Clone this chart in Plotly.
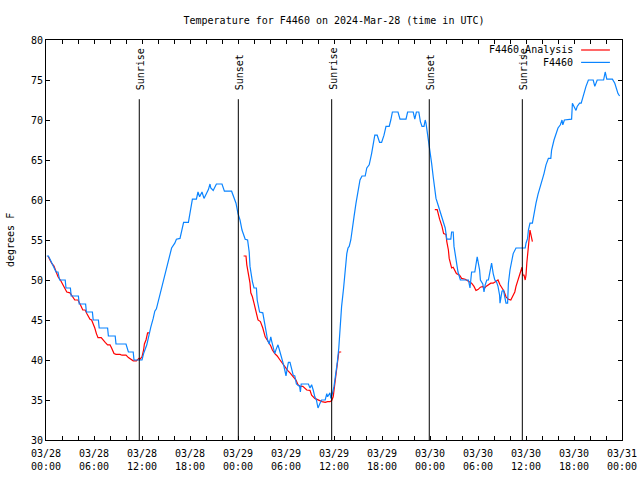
import plotly.graph_objects as go
import pandas as pd

BASE = pd.Timestamp("2024-03-28 00:00")

# observed F4460 temperature: (hours since 03/28 00:00 UTC, degF)
obs = [(0.1,53.0),(0.3,53.0),(0.55,52.5),(0.8,52.0),(1.25,51.0),(1.5,51.0),(1.7,50.0),(2.4,50.0),(2.5,49.0),(3.05,49.0),(3.15,48.0),(4.05,48.0),(4.15,47.0),(4.95,47.0),(5.05,46.0),(5.8,46.0),(5.9,45.0),(6.55,45.0),(6.65,44.0),(7.7,44.0),(7.8,43.0),(8.65,43.0),(8.75,42.0),(10.0,42.0),(10.3,41.0),(10.9,41.0),(11.0,40.0),(12.0,40.0),(12.2,40.8),(12.6,41.9),(12.8,42.9),(13.1,44.1),(13.4,45.2),(13.6,46.1),(13.8,46.4),(14.2,48.0),(14.5,49.0),(14.9,50.8),(15.3,52.3),(15.7,54.0),(16.1,54.6),(16.3,55.1),(16.75,55.2),(17.2,57.2),(17.8,57.2),(18.0,58.3),(18.3,60.1),(18.8,60.1),(19.0,61.0),(19.2,60.4),(19.5,61.0),(19.75,60.2),(20.1,61.0),(20.3,61.3),(20.5,62.0),(20.6,61.5),(20.9,61.2),(21.3,62.0),(22.0,62.0),(22.3,61.1),(23.2,61.1),(23.5,60.4),(23.75,59.6),(24.0,58.3),(24.25,57.5),(24.5,56.25),(24.9,55.1),(25.2,55.0),(25.4,53.5),(25.5,51.7),(25.65,50.4),(25.8,49.8),(26.0,49.0),(26.3,49.0),(26.4,47.5),(26.7,46.0),(27.1,45.9),(27.25,45.0),(27.5,43.75),(27.7,42.5),(27.9,42.0),(28.1,42.9),(28.2,42.4),(28.4,41.5),(28.6,40.8),(28.75,41.3),(29.0,41.9),(29.25,41.0),(29.5,40.2),(29.7,39.4),(29.9,38.5),(30.0,38.0),(30.2,39.2),(30.3,39.7),(30.5,39.7),(30.7,38.75),(30.9,38.1),(31.1,38.0),(31.3,37.0),(31.7,36.7),(31.8,36.0),(31.9,37.0),(32.8,37.0),(33.0,36.5),(33.2,36.9),(33.4,36.25),(33.6,35.4),(33.8,35.0),(34.0,34.0),(34.25,34.6),(34.45,35.0),(34.9,35.0),(35.1,35.8),(35.2,35.4),(35.5,35.9),(35.6,35.2),(35.8,35.8),(36.0,36.7),(36.25,38.3),(36.4,39.6),(36.6,41.5),(36.75,43.75),(36.95,46.7),(37.2,49.0),(37.4,51.5),(37.6,53.3),(37.75,54.0),(37.9,54.2),(38.1,55.0),(38.3,56.7),(38.5,57.9),(38.75,59.6),(39.0,61.25),(39.25,62.5),(39.5,63.0),(39.9,63.0),(40.1,64.0),(40.4,64.4),(40.7,65.8),(40.9,67.1),(41.1,68.1),(41.4,68.1),(41.7,67.2),(41.95,67.2),(42.25,68.1),(42.5,69.2),(42.9,69.2),(43.1,70.0),(43.3,71.0),(44.0,71.0),(44.25,70.1),(45.0,70.1),(45.2,71.0),(45.9,71.0),(46.1,70.1),(46.3,71.0),(46.6,71.0),(46.8,69.8),(47.0,69.2),(47.25,69.2),(47.4,70.0),(47.5,69.6),(47.7,68.3),(47.8,67.3),(48.0,66.0),(48.2,64.6),(48.4,62.9),(48.6,61.25),(48.75,60.2),(49.0,59.4),(49.3,58.5),(49.6,57.5),(49.9,56.5),(50.1,55.1),(50.6,55.1),(50.7,56.0),(50.9,56.0),(51.0,54.2),(51.25,52.5),(51.5,51.0),(51.8,50.0),(52.8,50.0),(53.0,49.0),(53.1,50.0),(53.2,51.0),(53.6,51.0),(53.75,52.3),(53.9,52.9),(54.2,51.25),(54.3,50.0),(54.6,49.5),(54.75,48.5),(54.9,49.4),(55.1,50.0),(55.3,50.0),(55.5,51.0),(55.7,52.1),(55.9,50.8),(56.1,50.0),(56.3,49.8),(56.5,49.2),(56.7,48.1),(56.75,47.1),(57.0,48.6),(57.2,48.7),(57.3,48.1),(57.5,47.1),(57.7,47.1),(57.8,49.6),(58.0,51.25),(58.2,52.3),(58.4,53.3),(58.75,54.0),(59.9,54.0),(60.0,54.6),(60.2,55.2),(60.3,56.25),(60.5,57.1),(60.8,57.1),(61.0,58.4),(61.25,59.6),(61.5,60.7),(61.8,61.7),(62.1,62.5),(62.25,63.3),(62.5,64.4),(62.8,65.2),(63.1,65.2),(63.2,66.25),(63.5,67.5),(63.75,68.3),(64.0,69.0),(64.3,69.4),(64.5,70.0),(64.6,69.4),(64.8,70.0),(65.7,70.1),(65.8,72.1),(66.0,71.7),(66.25,71.2),(66.4,71.7),(66.7,72.1),(66.9,72.1),(67.2,73.1),(67.4,74.0),(67.5,74.2),(67.8,75.0),(68.4,75.0),(68.6,74.2),(68.9,75.0),(69.7,75.0),(69.9,76.0),(70.1,75.1),(70.8,75.1),(71.1,74.6),(71.3,74.0),(71.5,73.3),(71.7,73.0)]

# analysis segments
ana_day1 = [(0.25,53.0),(0.7,52.1),(1.0,51.75),(1.25,51.0),(1.5,50.4),(1.8,50.0),(2.0,49.6),(2.4,49.0),(2.6,48.5),(3.0,48.4),(3.2,48.1),(3.4,47.9),(3.6,47.5),(4.0,47.5),(4.2,47.2),(4.3,46.9),(4.6,46.25),(4.9,46.25),(5.1,45.8),(5.3,45.5),(5.5,45.1),(5.7,45.0),(6.0,44.4),(6.1,44.0),(6.3,43.3),(6.5,42.8),(6.9,42.8),(7.1,42.5),(7.4,42.2),(7.7,41.9),(8.0,41.9),(8.2,41.5),(8.5,40.8),(8.75,40.7),(9.25,40.7),(9.5,40.6),(10.0,40.6),(10.3,40.3),(10.6,40.1),(10.9,39.9),(11.3,39.9),(11.6,40.2),(11.75,40.1),(12.0,40.4),(12.2,41.25),(12.3,42.0),(12.5,42.5),(12.7,43.4),(12.9,43.4)]
ana_day2 = [(24.7,53.0),(25.0,53.0),(25.1,51.9),(25.3,50.8),(25.5,49.6),(25.6,48.4),(25.8,47.9),(26.0,47.1),(26.25,46.0),(26.5,45.0),(26.8,44.8),(27.1,44.0),(27.4,42.9),(27.6,42.5),(27.9,42.1),(28.1,41.75),(28.3,41.25),(28.6,40.8),(28.9,40.5),(29.25,40.0),(29.6,39.5),(29.9,39.0),(30.2,38.7),(30.5,38.4),(30.8,38.0),(31.25,37.5),(31.5,36.9),(31.8,36.7),(32.1,36.7),(32.6,36.25),(33.0,36.2),(33.2,35.6),(33.6,35.2),(34.0,35.0),(34.5,34.8),(34.9,34.7),(35.2,34.8),(35.5,34.8),(35.7,34.9),(35.9,35.4),(36.1,37.1),(36.25,38.4),(36.4,39.4),(36.5,40.6),(36.6,41.0),(36.9,41.0)]
ana_day3 = [(48.6,58.8),(48.9,58.8),(49.2,57.6),(49.5,56.7),(49.7,55.8),(50.0,55.7),(50.1,54.8),(50.3,53.75),(50.4,52.7),(50.6,51.9),(50.7,51.5),(50.9,51.6),(51.1,51.25),(51.3,50.8),(51.7,50.6),(51.95,50.2),(52.4,50.1),(52.8,49.9),(53.2,49.6),(53.5,49.2),(53.75,48.7),(54.0,48.8),(54.3,49.1),(54.6,49.2),(54.75,48.9),(55.0,49.2),(55.3,49.4),(55.6,49.6),(55.9,49.6),(56.25,49.8),(56.5,50.0),(56.75,49.4),(57.0,49.0),(57.25,48.6),(57.5,47.9),(57.8,47.6),(58.1,47.5),(58.3,47.9),(58.6,48.5),(58.75,49.2),(59.0,50.0),(59.25,50.8),(59.5,51.6),(59.6,50.6),(59.75,50.6),(59.9,50.0),(60.0,50.6),(60.1,52.1),(60.2,53.3),(60.4,55.2),(60.5,56.25),(60.6,55.75),(60.75,55.0),(60.8,54.8)]

# sun events (hours since 03/28 00:00 UTC)
sun_events = [("Sunrise", 11.66), ("Sunset", 24.04), ("Sunrise", 35.71), ("Sunset", 47.91), ("Sunrise", 59.54)]

tick_hours = [0, 6, 12, 18, 24, 30, 36, 42, 48, 54, 60, 66, 72]
tick_labels = ["03/28<br>00:00", "03/28<br>06:00", "03/28<br>12:00", "03/28<br>18:00",
               "03/29<br>00:00", "03/29<br>06:00", "03/29<br>12:00", "03/29<br>18:00",
               "03/30<br>00:00", "03/30<br>06:00", "03/30<br>12:00", "03/30<br>18:00",
               "03/31<br>00:00"]

def t(h):
    return BASE + pd.Timedelta(hours=h)

RED = "#ff0000"
BLUE = "#0a84ff"
FONT = "DejaVu Sans Mono"

ana_x, ana_y = [], []
for seg in (ana_day1, ana_day2, ana_day3):
    ana_x += [t(h) for h, _ in seg] + [None]
    ana_y += [v for _, v in seg] + [None]

fig = go.Figure()
fig.add_trace(go.Scatter(x=ana_x, y=ana_y, mode="lines", name="F4460_Analysis",
                         line=dict(color=RED, width=1.2), connectgaps=False, showlegend=False))
fig.add_trace(go.Scatter(x=[t(h) for h, _ in obs], y=[v for _, v in obs], mode="lines",
                         name="F4460", line=dict(color=BLUE, width=1.2), showlegend=False))

LINE_TOP = 72.6
LABEL_BOTTOM = 73.5
for name, h in sun_events:
    fig.add_shape(type="line", xref="x", yref="y", x0=t(h), x1=t(h), y0=30, y1=LINE_TOP,
                  line=dict(color="black", width=1))
    fig.add_annotation(x=t(h), y=LABEL_BOTTOM, xref="x", yref="y", text=name, textangle=-90,
                       showarrow=False, xanchor="center", yanchor="bottom", xshift=1,
                       font=dict(family=FONT, size=10, color="black"))

# manual legend (gnuplot-style: text then line sample)
for i, (name, col) in enumerate([("F4460_Analysis", RED), ("F4460", BLUE)]):
    yp = 0.975 - i * 0.031
    fig.add_annotation(x=0.918, y=yp, xref="paper", yref="paper", text=name, showarrow=False,
                       xanchor="right", yanchor="middle", font=dict(family=FONT, size=10, color="black"))
    fig.add_shape(type="line", xref="paper", yref="paper", x0=0.929, x1=0.979, y0=yp, y1=yp,
                  line=dict(color=col, width=1.2))

fig.add_annotation(x=-0.0625, y=0.5, xref="paper", yref="paper", text="degrees F", textangle=-90,
                   showarrow=False, xanchor="center", yanchor="middle",
                   font=dict(family=FONT, size=10, color="black"))

fig.update_layout(
    width=640, height=480,
    margin=dict(l=46, r=18, t=40, b=40, autoexpand=False),
    paper_bgcolor="white", plot_bgcolor="white",
    title=dict(text="Temperature for F4460 on 2024-Mar-28 (time in UTC)", x=0.5, xref="paper",
               y=1 - 20 / 480, yref="container", xanchor="center", yanchor="middle",
               font=dict(family=FONT, size=10, color="black")),
    font=dict(family=FONT, size=10, color="black"),
)
fig.update_xaxes(type="date", range=[t(0), t(72)], tickmode="array", automargin=False,
                 tickvals=[t(h) for h in tick_hours], ticktext=tick_labels,
                 ticks="inside", ticklen=4, tickcolor="black", showline=True, linecolor="black",
                 linewidth=1, mirror="ticks", showgrid=False, zeroline=False, ticklabelstandoff=4,
                 tickfont=dict(family=FONT, size=10, color="black"),
                 minor=dict(dtick=2 * 3600 * 1000, tick0=t(0), ticks="inside", ticklen=4,
                            tickcolor="black", showgrid=False))
fig.update_yaxes(range=[30, 80], dtick=5, ticks="inside", ticklen=4, tickcolor="black",
                 showline=True, linecolor="black", linewidth=1, mirror="ticks", showgrid=False,
                 zeroline=False, automargin=False,
                 tickfont=dict(family=FONT, size=10, color="black"))

fig.write_html("out.html")
